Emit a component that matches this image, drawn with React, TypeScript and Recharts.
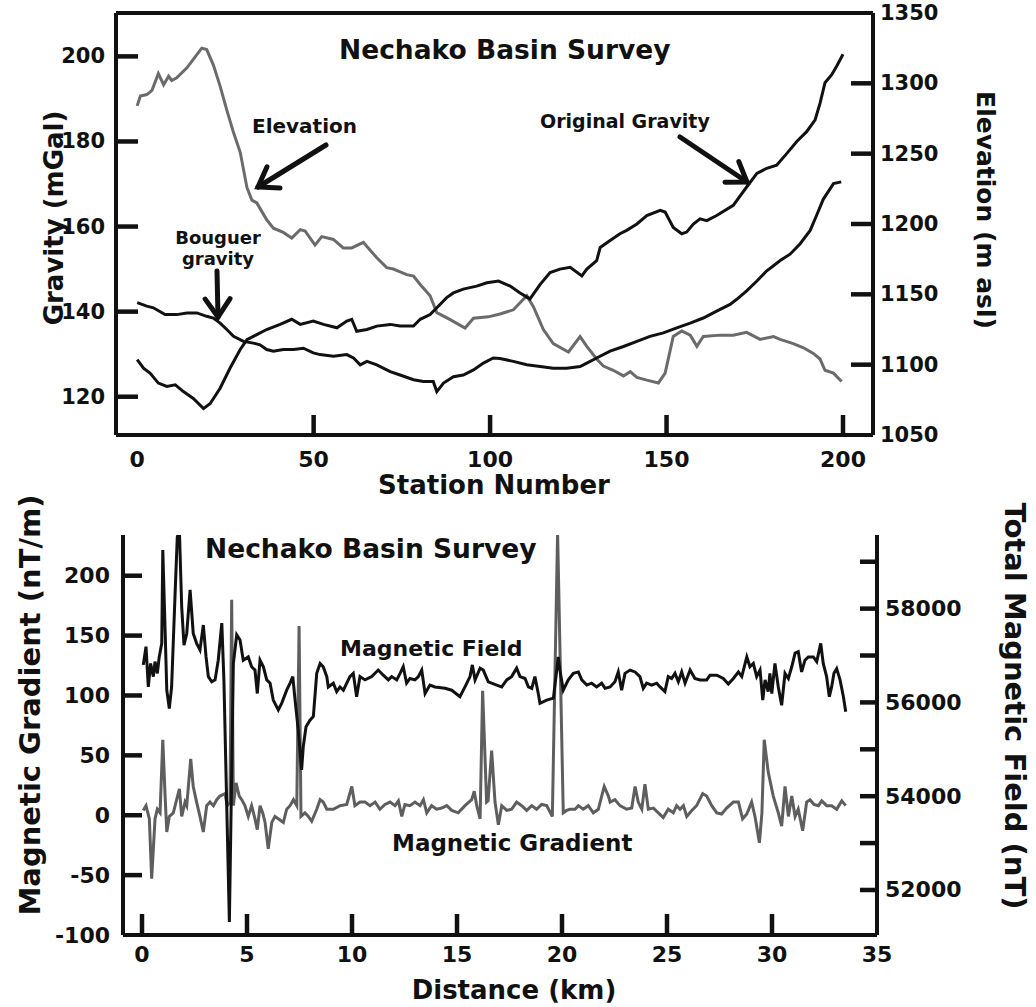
import { LineChart, Line, XAxis, YAxis, ReferenceLine } from 'recharts'

const FONT = '"DejaVu Sans", Verdana, sans-serif'
const INK = '#111'
const GREY = '#6b6b6b'

// --- top panel: gravity / elevation vs station number ---
const elevStation = [0, 0.9, 2.7, 4.2, 6, 7.5, 8.9, 9.8, 11.2, 14.1, 15.9, 18.3, 19.7, 21.6, 23.5, 25.4, 27.3, 29.2, 31.1, 32.5, 33.9, 36.7, 38.6, 41.4, 43.8, 46.2, 47.6, 50.4, 52.3, 55.6, 58.4, 60.8, 64.1, 65.1, 67.9, 70.7, 72.6, 74.5, 76.4, 78.3, 80.2, 83, 84.9, 88.7, 92.9, 95.3, 99.5, 102.8, 106.6, 108.5, 110.4, 112.3, 115.1, 117.9, 122.2, 125.5, 127.4, 130.2, 132.1, 134.9, 137.8, 139.7, 141.6, 144.4, 147.7, 149.6, 151.9, 154.3, 156.7, 158.6, 160.4, 165.2, 168.9, 172.7, 176.5, 180.3, 182.2, 185.9, 188.8, 191.6, 193.5, 194.9, 197.3, 199.6]
const elevM = [1284, 1291, 1292, 1295, 1307, 1299, 1305, 1302, 1304, 1311, 1317, 1325, 1324, 1313, 1298, 1281, 1265, 1251, 1226, 1217, 1215, 1203, 1197, 1194, 1190, 1196, 1195, 1185, 1191, 1189, 1183, 1183, 1187, 1184, 1176, 1169, 1168, 1166, 1164, 1163, 1157, 1149, 1137, 1132, 1126, 1133, 1134, 1136, 1139, 1144, 1149, 1141, 1125, 1115, 1109, 1120, 1113, 1104, 1099, 1096, 1092, 1095, 1091, 1089, 1087, 1094, 1120, 1124, 1121, 1113, 1120, 1121, 1121, 1123, 1118, 1120, 1118, 1115, 1112, 1108, 1104, 1096, 1094, 1088]

const gravStation = [0, 1.8, 3.7, 6, 8.4, 10.8, 13.1, 15.9, 18.8, 20.7, 23.5, 26.3, 29.2, 31.1, 33.9, 36.7, 40.5, 43.8, 46.2, 49.9, 52.8, 56.6, 59.4, 60.8, 62.2, 65.1, 67.9, 71.7, 74.5, 78.3, 80.2, 83, 84.9, 87.7, 89.6, 92.4, 96.2, 99.1, 102.4, 105.7, 108.5, 111.3, 114.2, 117, 119.8, 122.7, 126, 127.4, 130.2, 131.2, 134, 136.8, 138.7, 141.6, 144.4, 148.2, 149.6, 151.9, 154.3, 155.7, 157.6, 159.5, 161.4, 164.2, 168.9, 172.7, 175.6, 178.4, 181.2, 184.1, 186.9, 189.7, 192.1, 193.5, 194.9, 196.8, 198.2, 200]
const gravMgal = [128.7, 126.7, 125.5, 123.2, 122.4, 122.8, 121.2, 119.6, 117.2, 118.4, 122, 126.7, 131.1, 133.4, 134.6, 135.8, 137, 138.2, 137, 137.8, 137, 136.2, 137.8, 138.2, 135.4, 135.8, 136.6, 137, 136.6, 136.6, 138.2, 139.3, 140.9, 143.3, 144.4, 145.3, 146, 146.8, 147.2, 146, 144.4, 143, 146.4, 149.2, 150, 150.4, 148.4, 150, 152, 155.1, 156.7, 158.3, 159.1, 160.6, 162.6, 163.8, 163.4, 159.8, 158.3, 158.7, 160.6, 161.8, 161.4, 162.6, 165, 169.3, 172.5, 173.7, 174.4, 177.2, 180, 182.3, 185.1, 189, 193.8, 195.7, 197.7, 200.5]

const bougStation = [0, 2.7, 4.6, 7.9, 11.2, 14.1, 16.9, 19.7, 21.6, 23.5, 25.4, 27.3, 30.1, 32.9, 34.8, 36.7, 38.6, 41.4, 44.3, 47.1, 49.9, 51.8, 55.6, 59.4, 61.3, 63.2, 65.1, 67.9, 71.7, 74.5, 78.3, 81.1, 83.9, 84.9, 86.8, 89.6, 92.4, 95.3, 98.1, 100.9, 102.8, 106.6, 110.4, 114.2, 117.9, 121.7, 125.5, 127.4, 130.2, 134, 137.8, 141.6, 145.3, 149.1, 152.9, 156.7, 160.4, 164.2, 168, 169.9, 172.7, 175.6, 178.4, 180.3, 182.2, 185, 187.8, 190.7, 192.5, 194.4, 197.3, 199.5]
const bougMgal = [142.1, 141.3, 140.9, 139.3, 139.3, 139.7, 139.7, 138.9, 138.5, 137.3, 135.8, 134.2, 133, 132.6, 132.2, 131.1, 130.7, 131.1, 131.1, 131.4, 130.3, 129.9, 129.5, 129.9, 129.1, 127.5, 128.3, 127.5, 125.9, 125.1, 124, 123.6, 123.6, 121.2, 123.2, 124.7, 125.1, 126.3, 127.9, 129.1, 129, 128.3, 127.5, 127.1, 126.7, 126.7, 127.1, 127.9, 129.1, 130.7, 131.8, 133, 134.2, 135, 136.2, 137.3, 138.5, 140.1, 141.7, 142.9, 144.9, 147.2, 149.6, 150.8, 152, 153.5, 155.9, 159.1, 162.6, 166.4, 170.1, 170.5]

const stationTicks = [0, 50, 100, 150, 200]
const gravityTicks = [120, 140, 160, 180, 200]
const elevTicks = [1050, 1100, 1150, 1200, 1250, 1300, 1350]

// --- bottom panel: magnetics vs distance ---
const fieldKm = [0.06, 0.19, 0.3, 0.41, 0.54, 0.62, 0.73, 0.82, 0.94, 0.99, 1.1, 1.18, 1.3, 1.41, 1.57, 1.68, 1.78, 1.89, 2, 2.13, 2.29, 2.44, 2.6, 2.76, 2.92, 3.05, 3.16, 3.32, 3.48, 3.63, 3.8, 3.9, 4.16, 4.35, 4.51, 4.67, 4.82, 5.06, 5.22, 5.38, 5.49, 5.62, 5.78, 5.94, 6.1, 6.25, 6.49, 6.65, 6.89, 7.05, 7.18, 7.29, 7.44, 7.6, 7.68, 7.81, 8, 8.16, 8.32, 8.48, 8.63, 8.8, 8.87, 9.11, 9.27, 9.43, 9.59, 9.75, 9.9, 10.06, 10.22, 10.38,
  10.62, 10.94, 11.25, 11.49, 11.73, 11.89, 12.13, 12.29, 12.44, 12.6, 12.76, 13, 13.16, 13.32, 13.48, 13.71, 13.95, 14.43, 14.75, 15.14, 15.38, 15.62, 15.73, 15.86, 16.1, 16.25, 16.49, 16.65, 16.89, 17.13, 17.37, 17.6, 17.84, 18, 18.24, 18.4, 18.56, 18.71, 18.87, 18.95, 19.27, 19.59, 19.75, 19.82, 19.9, 20.06, 20.3, 20.54, 20.78, 20.94, 21.18, 21.41, 21.65, 21.89, 22.05,
  22.29, 22.52, 22.68, 22.84, 23, 23.24, 23.48, 23.71, 23.87, 24.03, 24.27, 24.51, 24.67, 24.9, 25.06, 25.22, 25.38, 25.54, 25.7, 25.86, 26.1, 26.33, 26.57, 26.89, 27.05, 27.37, 27.68, 27.92, 28.16, 28.4, 28.56, 28.8, 28.95, 29.11, 29.27, 29.43, 29.56, 29.67, 29.82, 29.9, 29.99, 30.14, 30.3, 30.46, 30.62, 30.78, 30.94, 31.1, 31.25, 31.41, 31.57, 31.73, 31.97, 32.13, 32.32, 32.44, 32.6, 32.73, 32.84, 32.95, 33.08, 33.24, 33.4, 33.51]
const fieldNt = [56800, 57190, 56330, 56830, 56550, 56870, 56620, 56970, 57260, 59250, 57540, 56260, 55870, 56330, 58250, 59530, 59680, 58040, 57220, 57470, 58400, 57470, 57260, 57120, 57650, 56970, 56550, 56440, 56480, 56900, 57690, 56480, 51320, 56830, 57440, 57330, 56900, 56970, 56760, 56690, 56190, 56900, 56760, 56480, 56410, 56050, 55840, 55980, 56260, 56410, 56550, 56050, 55410, 54560, 55060, 55480, 55620, 55700, 56620, 56830, 56760, 56550, 56330, 56410, 56230, 56330, 56260, 56410, 56550, 56620, 56120, 56550,
  56480, 56550, 56690, 56580, 56480, 56550, 56480, 56620, 56760, 56410, 56510, 56480, 56550, 56690, 56190, 56370, 56330, 56300, 56260, 56120, 56330, 56550, 56800, 56480, 56730, 56690, 56440, 56410, 56370, 56330, 56480, 56550, 56730, 56550, 56510, 56330, 56300, 56550, 56190, 55980, 56050, 56090, 56690, 56970, 56690, 56260, 56480, 56620, 56650, 56480, 56370, 56410, 56330, 56410, 56300,
  56330, 56440, 56650, 56260, 56620, 56690, 56650, 56550, 56300, 56410, 56370, 56410, 56330, 56230, 56550, 56510, 56620, 56440, 56650, 56410, 56690, 56510, 56480, 56480, 56580, 56580, 56510, 56390, 56510, 56650, 56550, 56970, 56760, 56830, 56550, 56690, 56050, 56480, 56230, 56620, 56190, 56830, 56330, 55940, 56620, 56510, 56760, 57050, 57080, 56650, 56900, 56970, 56970, 56870, 57260, 56830, 56550, 56120, 56330, 56620, 56720, 56480, 56120, 55800]

const gradKm = [0.06, 0.19, 0.35, 0.46, 0.62, 0.73, 0.86, 0.99, 1.1, 1.18, 1.3, 1.49, 1.65, 1.78, 1.89, 2.05, 2.13, 2.32, 2.44, 2.6, 2.76, 2.92, 3.08, 3.24, 3.4, 3.56, 3.71, 3.95, 4.06, 4.19, 4.27, 4.35, 4.48, 4.63, 4.75, 4.9, 5.06, 5.22, 5.38, 5.49, 5.62, 5.75, 5.86, 6.01, 6.18, 6.33, 6.49, 6.73, 6.89, 7.05, 7.21, 7.37, 7.48, 7.57, 7.76, 7.92, 8.08, 8.32, 8.48, 8.63, 8.8, 9.11, 9.43, 9.75, 9.99, 10.14, 10.38,
  10.62, 10.86, 11.1, 11.33, 11.57, 11.81, 12.05, 12.21, 12.37, 12.52, 12.76, 13, 13.24, 13.4, 13.56, 13.79, 14.03, 14.27, 14.51, 14.75, 15.06, 15.38, 15.7, 15.82, 15.94, 16.1, 16.22, 16.41, 16.48, 16.65, 16.81, 16.97, 17.13, 17.37, 17.6, 17.84, 18.08, 18.32, 18.56, 18.79, 19.03, 19.27, 19.54, 19.79, 20.06, 20.22, 20.38, 20.62, 20.78, 21.01, 21.25, 21.49, 21.73, 21.89, 22.01, 22.21,
  22.29, 22.52, 22.76, 23.08, 23.32, 23.48, 23.63, 23.8, 23.95, 24.11, 24.35, 24.59, 24.82, 25.06, 25.3, 25.46, 25.62, 25.78, 25.94, 26.18, 26.41, 26.7, 26.89, 27.13, 27.37, 27.6, 27.84, 28.16, 28.4, 28.6, 28.8, 29.03, 29.19, 29.4, 29.52, 29.63, 29.82, 30.06, 30.3, 30.46, 30.62, 30.78, 30.94, 31.1, 31.25, 31.46, 31.65, 31.81, 32, 32.21, 32.37, 32.6, 32.84, 33.08, 33.32, 33.51]
const gradNtm = [4, 8, -3, -53, -3, 5, 2, 63, 16, -14, -1, 2, 13, 22, -1, 11, 8, 47, 24, 11, -1, -14, 8, 11, 8, 13, 16, 18, 8, 11, 180, 8, 27, 16, 13, 8, -1, 8, -3, -12, 8, 2, -6, -28, -6, -1, -3, -6, 5, 8, 13, 8, 158, -1, 2, -1, -5, 5, 13, 11, 5, 5, 8, 9, 24, 8, 11,
  11, 8, 11, 5, 9, 11, 8, 12, -1, 9, 8, 11, 8, 13, 2, 8, 5, 6, 8, 4, 2, 8, 13, 20, 8, -3, 104, 11, 12, 54, 11, -8, 8, 4, 5, 11, 8, 4, 8, 5, 9, 8, -1, 236, 2, 4, 5, 5, 8, 5, 8, 2, 5, 16, 24, 16,
  11, 13, 8, 5, 6, 24, 11, 5, 26, 5, 6, 2, -2, 5, 2, 8, 5, 8, -1, 4, 8, 18, 16, 8, 2, 1, 6, 11, 11, -3, 1, 11, -1, -23, 2, 63, 36, 16, 2, -9, 24, -1, 16, -1, 5, -13, 11, 13, 9, 8, 12, 8, 8, 5, 12, 8]

const kmTicks = [0, 5, 10, 15, 20, 25, 30, 35]
const gradTicks = [-100, -50, 0, 50, 100, 150, 200]
const fieldTicks = [52000, 53000, 54000, 55000, 56000, 57000, 58000, 59000]

const zip = (xs: number[], ys: number[]) => xs.map((x, i) => ({ x, y: ys[i] }))

const elevData = zip(elevStation, elevM)
const gravData = zip(gravStation, gravMgal)
const bougData = zip(bougStation, bougMgal)
const fieldData = zip(fieldKm, fieldNt)
const gradData = zip(gradKm, gradNtm)

type TickProps = {
  x?: number
  y?: number
  payload?: { value: number }
  edge: 'left' | 'right' | 'bottom'
  at: number
  tickLen: number
  gapPx: number
  fs: number
  noLine?: number[]
  noLabel?: number[]
}

// inward tick mark + outside label; `at` is the axis line position
function AxisTick({ x = 0, y = 0, payload, edge, at, tickLen, gapPx, fs, noLine = [], noLabel = [] }: TickProps) {
  const v = payload ? payload.value : 0
  const textProps = { fill: INK, fontSize: fs, fontWeight: 700, fontFamily: FONT }
  let mark = null
  let label = null
  if (edge === 'left') {
    mark = <line x1={at} y1={y} x2={at + tickLen} y2={y} />
    label = <text x={at - gapPx} y={y} textAnchor="end" dominantBaseline="central" {...textProps}>{v}</text>
  } else if (edge === 'right') {
    mark = <line x1={at - tickLen} y1={y} x2={at} y2={y} />
    label = <text x={at + gapPx} y={y} textAnchor="start" dominantBaseline="central" {...textProps}>{v}</text>
  } else {
    mark = <line x1={x} y1={at} x2={x} y2={at - tickLen} />
    label = <text x={x} y={at + gapPx} textAnchor="middle" {...textProps}>{v}</text>
  }
  return (
    <g>
      {!noLine.includes(v) && <g stroke={INK} strokeWidth={4.5}>{mark}</g>}
      {!noLabel.includes(v) && label}
    </g>
  )
}

function Arrow({ x1, y1, x2, y2 }: { x1: number; y1: number; x2: number; y2: number }) {
  const a = Math.atan2(y2 - y1, x2 - x1)
  const L = 22
  const s = 0.6
  const p1 = `${x2 - L * Math.cos(a - s)},${y2 - L * Math.sin(a - s)}`
  const p2 = `${x2 - L * Math.cos(a + s)},${y2 - L * Math.sin(a + s)}`
  return (
    <g stroke={INK} strokeWidth={5} fill="none" strokeLinecap="round">
      <line x1={x1} y1={y1} x2={x2} y2={y2} />
      <polyline points={`${p1} ${x2},${y2} ${p2}`} />
    </g>
  )
}

const axisLine = { stroke: INK, strokeWidth: 4 }
const bold = { fontFamily: FONT, fontWeight: 700, fill: INK }

export default function App() {
  return (
    <div style={{ position: 'absolute', left: 0, top: 0, width: 1036, height: 1007, background: '#fff' }}>
      <div style={{ position: 'absolute', left: 0, top: 0 }}>
        <LineChart width={1036} height={500} margin={{ top: 13, right: 63, bottom: 5, left: 16 }}>
          <XAxis
            type="number"
            dataKey="x"
            domain={[-6, 208.5]}
            ticks={stationTicks}
            interval={0}
            allowDataOverflow
            height={60}
            tickSize={0}
            tickMargin={0}
            tickLine={false}
            axisLine={axisLine}
            tick={<AxisTick edge="bottom" at={435} tickLen={20} gapPx={32} fs={22} noLine={[0]} />}
          />
          <YAxis
            yAxisId="grav"
            orientation="left"
            type="number"
            domain={[111, 210.2]}
            ticks={gravityTicks}
            interval={0}
            allowDataOverflow
            width={100}
            tickSize={0}
            tickMargin={0}
            tickLine={false}
            axisLine={axisLine}
            tick={<AxisTick edge="left" at={116} tickLen={22} gapPx={11} fs={21} />}
          />
          <YAxis
            yAxisId="elev"
            orientation="right"
            type="number"
            domain={[1050, 1350]}
            ticks={elevTicks}
            interval={0}
            allowDataOverflow
            width={100}
            tickSize={0}
            tickMargin={0}
            tickLine={false}
            axisLine={axisLine}
            tick={<AxisTick edge="right" at={873} tickLen={22} gapPx={7} fs={21} noLine={[1050, 1350]} />}
          />
          <ReferenceLine yAxisId="grav" y={210.2} stroke={INK} strokeWidth={4} />
          <Line yAxisId="elev" data={elevData} dataKey="y" type="linear" stroke={GREY} strokeWidth={3} dot={false} isAnimationActive={false} />
          <Line yAxisId="grav" data={gravData} dataKey="y" type="linear" stroke={INK} strokeWidth={3} dot={false} isAnimationActive={false} />
          <Line yAxisId="grav" data={bougData} dataKey="y" type="linear" stroke={INK} strokeWidth={3} dot={false} isAnimationActive={false} />
        </LineChart>
      </div>

      <div style={{ position: 'absolute', left: 0, top: 500 }}>
        <LineChart width={1036} height={507} margin={{ top: 35, right: 59, bottom: 12, left: 23 }}>
          <XAxis
            type="number"
            dataKey="x"
            domain={[-0.905, 35]}
            ticks={kmTicks}
            interval={0}
            allowDataOverflow
            height={60}
            tickSize={0}
            tickMargin={0}
            tickLine={false}
            axisLine={axisLine}
            tick={<AxisTick edge="bottom" at={435} tickLen={21} gapPx={27} fs={22} noLine={[35]} />}
          />
          <YAxis
            yAxisId="grad"
            orientation="left"
            type="number"
            domain={[-100, 234]}
            ticks={gradTicks}
            interval={0}
            allowDataOverflow
            width={100}
            tickSize={0}
            tickMargin={0}
            tickLine={false}
            axisLine={axisLine}
            tick={<AxisTick edge="left" at={123} tickLen={19} gapPx={13} fs={22} noLine={[-100]} />}
          />
          <YAxis
            yAxisId="field"
            orientation="right"
            type="number"
            domain={[51040, 59570]}
            ticks={fieldTicks}
            interval={0}
            allowDataOverflow
            width={100}
            tickSize={0}
            tickMargin={0}
            tickLine={false}
            axisLine={axisLine}
            tick={<AxisTick edge="right" at={877} tickLen={17} gapPx={8} fs={22} noLabel={[53000, 55000, 57000, 59000]} />}
          />
          <Line yAxisId="grad" data={gradData} dataKey="y" type="linear" stroke="#5e5e5e" strokeWidth={3} dot={false} isAnimationActive={false} />
          <Line yAxisId="field" data={fieldData} dataKey="y" type="linear" stroke={INK} strokeWidth={3} dot={false} isAnimationActive={false} />
        </LineChart>
      </div>

      <svg width={1036} height={1007} style={{ position: 'absolute', left: 0, top: 0, pointerEvents: 'none' }}>
        <text x={339} y={59} fontSize={26.5} {...bold}>Nechako Basin Survey</text>
        <text x={252} y={133} fontSize={20} {...bold}>Elevation</text>
        <Arrow x1={326} y1={145} x2={258} y2={187} />
        <text x={540} y={128} fontSize={19} {...bold}>Original Gravity</text>
        <Arrow x1={680} y1={137} x2={747} y2={182} />
        <text x={218} y={244} fontSize={18} textAnchor="middle" {...bold}>Bouguer</text>
        <text x={218} y={265} fontSize={18} textAnchor="middle" {...bold}>gravity</text>
        <Arrow x1={217} y1={271} x2={218} y2={317} />
        <text transform="translate(54,218) rotate(-90)" fontSize={26} textAnchor="middle" dominantBaseline="central" {...bold}>Gravity (mGal)</text>
        <text transform="translate(985,210) rotate(90)" fontSize={25} textAnchor="middle" dominantBaseline="central" {...bold}>Elevation (m asl)</text>
        <text x={494} y={494} fontSize={26} textAnchor="middle" {...bold}>Station Number</text>

        <text x={205} y={558} fontSize={26.5} {...bold}>Nechako Basin Survey</text>
        <text x={340} y={656} fontSize={22} {...bold}>Magnetic Field</text>
        <text x={392} y={851} fontSize={23} {...bold}>Magnetic Gradient</text>
        <text transform="translate(30,705) rotate(-90)" fontSize={29} textAnchor="middle" dominantBaseline="central" {...bold}>Magnetic Gradient (nT/m)</text>
        <text transform="translate(1015,706) rotate(90)" fontSize={29} textAnchor="middle" dominantBaseline="central" {...bold}>Total Magnetic Field (nT)</text>
        <text x={514} y={999} fontSize={26} textAnchor="middle" {...bold}>Distance (km)</text>
      </svg>
    </div>
  )
}
